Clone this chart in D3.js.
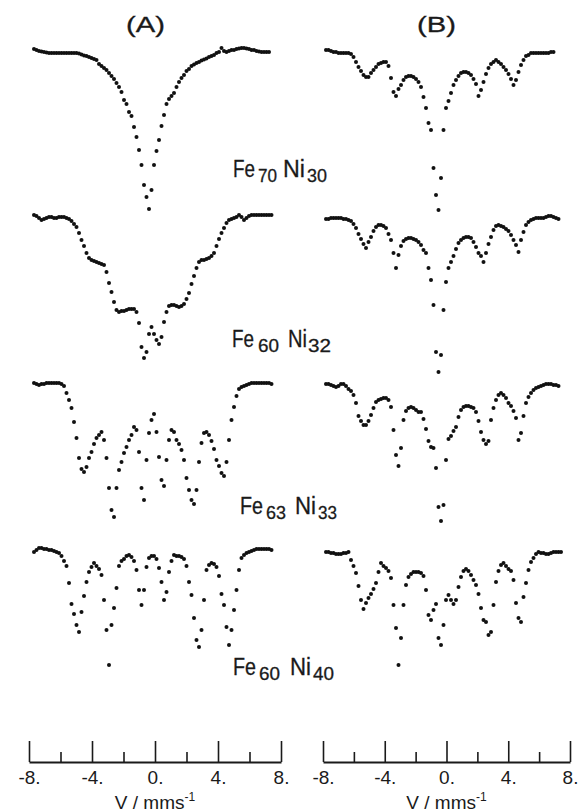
<!DOCTYPE html>
<html>
<head>
<meta charset="utf-8">
<script src="https://cdn.jsdelivr.net/npm/d3@7"></script>
<style>
  body { margin: 0; background: #fff; }
  svg { display: block; }
  text { font-family: "Liberation Sans", Arial, sans-serif; fill: #1a1a1a; }
</style>
</head>
<body>
<div id="chart"></div>
<script>
// Mossbauer spectra, relative absorption (%) per channel
var panelNames = ["(A)", "(B)"];
var feContent = ["70", "60", "63", "60"];
var niContent = ["30", "32", "33", "40"];
var velocityTicks = [-8, -6, -4, -2, 0, 2, 4, 6, 8];
var majorTicks = [-8, -4, 0, 4, 8];

// column (A)
var absA1 = [-0.1,0,0.1,0.15,0.2,0.25,0.3,0.3,0.3,0.3,0.3,0.3,0.3,0.3,0.3,0.3,0.3,0.3,0.35,0.45,0.55,0.6,0.7,0.8,0.9,1.0,1.4,1.6,1.8,2.0,2.3,2.6,2.9,3.3,3.7,4.2,5.0,5.4,6.2,6.6,7.7,8.7,10.0,11.5,13.5,14.7,15.9,14.0,11.5,10.1,9.0,7.6,6.5,5.4,4.9,4.6,4.3,3.7,3.2,2.8,2.5,2.1,1.9,1.6,1.45,1.3,1.2,1.05,0.95,0.85,0.7,0.6,0.5,0.3,0.2,-0.2,0.1,0.2,0.1,0,0,-0.1,-0.15,-0.2,-0.2,-0.15,-0.1,0,0,0.1,0.15,0.2,0.2,0.2,0.2];
var absA2 = [0,0.1,0.3,0.5,0.4,0.3,0.2,0.2,0.3,0.3,0.2,0.2,0.2,0.3,0.4,0.6,0.9,1.2,1.8,2.5,3.1,3.8,4.3,4.5,4.6,4.7,4.8,4.9,5.0,5.7,6.8,7.7,8.7,9.5,9.7,9.6,9.6,9.5,9.4,9.4,9.4,9.7,10.8,13.2,14.3,13.7,11.9,11.2,11.9,12.5,12.9,12.2,10.7,9.7,9.1,9.0,9.0,9.1,9.2,9.1,8.9,8.4,7.8,6.9,6.1,5.3,4.7,4.5,4.5,4.4,4.3,4.1,3.8,3.1,2.4,1.8,1.3,0.8,0.5,0.4,0.3,0.2,0,0.2,0.5,0.3,0.1,0,0,0,0,0,0,0,0,0];
var absA3 = [0,0.1,0.2,0.1,0.1,0,0,0,0,0,0,0.1,0.3,1.0,1.7,2.5,3.9,5.5,7.5,8.6,8.9,8.4,7.5,6.9,6.1,5.5,5.2,4.9,5.7,7.5,10.5,12.7,13.4,10.5,8.7,7.9,7.0,6.4,5.7,5.2,4.4,4.7,6.9,10.5,11.7,7.7,5.0,3.7,3.1,4.9,7.4,9.7,10.3,7.7,5.7,4.7,4.9,5.7,6.1,6.7,7.7,9.5,10.7,11.7,12.1,10.7,7.9,6.0,5.0,4.9,5.2,5.8,6.6,7.7,8.3,9.0,9.3,7.9,5.7,3.7,2.4,1.3,0.6,0.4,0.3,0.2,0.1,0,0,0,0,0,0,0,0,0.1];
var absA4 = [0.3,0.1,-0.1,-0.1,0,0,0.1,0.1,0.2,0.3,0.4,0.7,1.2,1.7,3.4,5.5,6.5,7.6,8.3,6.3,4.7,3.3,2.3,1.8,1.4,1.7,2.0,2.6,5.1,8.1,11.6,7.6,5.9,3.9,1.7,1.2,1.0,0.7,0.6,0.8,1.2,2.1,4.1,5.6,4.1,1.8,0.9,0.7,0.7,1.0,1.9,3.3,5.1,4.3,2.3,1.2,0.6,0.7,0.7,0.8,1.0,1.7,3.3,4.6,6.9,9.1,9.8,8.1,5.1,2.1,1.6,1.4,1.5,1.8,2.7,4.5,5.6,7.8,9.6,8.1,6.1,4.1,2.1,0.9,0.6,0.4,0.3,0.2,0.1,0,0,0,0,0,0,0.1];

// column (B)
var absB1 = [-0.2,-0.2,-0.1,0,0,0.1,0.1,0.1,0.1,0.1,0.2,0.5,1.0,1.5,1.9,2.3,2.5,2.5,2.1,1.8,1.5,1.2,1.1,1.0,1.0,1.4,2.6,4.0,4.4,3.7,3.3,2.8,2.5,2.4,2.4,2.5,2.7,3.0,3.5,4.5,5.6,7.1,7.8,11.6,14.3,15.8,12.6,7.8,5.6,4.9,4.1,3.3,2.8,2.4,2.1,2.0,2.0,2.1,2.3,2.7,3.2,4.4,3.8,3.0,2.2,1.6,1.2,1.0,0.8,1.0,1.2,1.5,1.8,2.2,2.7,3.3,2.8,2.0,1.3,0.8,0.4,0.3,0.1,0.1,0.1,0.1,0.1,0.1,0.1,0.1,0,0];
var absB2 = [0.1,0.1,0,0,0,0,0,0.1,0.1,0.2,0.3,0.6,1.0,1.6,2.1,2.6,3.0,2.4,1.9,1.3,0.9,0.7,0.7,0.8,1.0,1.6,2.2,3.5,5.0,3.7,2.8,2.3,2.1,2.0,2.0,2.1,2.2,2.4,2.7,3.2,3.5,5.0,6.2,8.7,13.4,15.4,13.7,9.2,6.4,5.0,4.4,3.8,3.1,2.5,2.2,2.0,1.9,1.9,2.0,2.4,2.9,3.5,3.8,4.4,3.5,2.6,1.9,1.2,0.8,0.7,0.8,0.9,1.1,1.3,1.7,2.2,2.7,3.4,2.2,1.4,0.7,0.4,0.2,0.1,0,0,0,0,-0.1,-0.2,-0.2,-0.1,0,0.1];
var absB3 = [-0.1,-0.1,0,0.1,0.2,0.1,-0.1,-0.1,0.1,0.4,0.6,1.0,1.8,3.1,3.6,4.0,4.0,3.6,3.0,2.3,1.7,1.5,1.4,1.3,1.3,1.5,2.2,4.5,7.0,8.1,6.3,3.5,2.6,2.3,2.2,2.3,2.5,2.7,2.7,3.4,4.4,5.6,6.2,6.3,8.3,12.2,13.6,12.0,7.5,5.4,5.1,4.6,4.2,3.2,2.5,2.2,2.1,2.1,2.2,2.3,2.7,3.6,4.7,5.5,5.9,5.6,3.5,2.3,1.5,1.0,0.8,1.0,1.3,1.8,2.1,2.6,3.3,5.5,4.8,3.1,1.8,1.2,0.8,0.5,0.3,0.2,0.1,0,-0.1,-0.1,-0.1,0,0,0.1];
var absB4 = [0,0,0.1,0.1,0.2,0.2,0.2,0.1,0.1,0,0.8,1.4,2.1,3.4,4.8,5.7,5.1,4.6,4.2,3.7,3.1,2.0,1.1,1.4,1.6,1.9,2.6,5.3,7.6,11.3,8.6,5.3,3.3,2.5,2.2,2.0,2.0,2.0,2.1,2.4,3.8,6.3,6.8,5.8,5.2,8.6,9.3,7.3,4.8,4.3,4.8,5.2,4.8,3.5,2.5,1.9,1.7,1.9,2.3,2.8,3.3,4.2,5.6,6.8,7.0,8.3,8.0,5.3,3.0,1.9,1.3,1.1,1.4,1.7,1.9,2.8,5.1,6.6,7.0,4.5,3.1,1.8,1.0,0.6,0.2,0,0.1,0.1,0.2,0.2,0.1,0,0,0,0];

var spectraA = [absA1, absA2, absA3, absA4];
var spectraB = [absB1, absB2, absB3, absB4];

var svgWidth = 583;
var svgHeight = 812;

var svg = d3.select("#chart")
    .append("svg")
    .attr("width", svgWidth)
    .attr("height", svgHeight);

svg.append("rect").attr("width", svgWidth).attr("height", svgHeight).attr("fill", "#fff");

// channel -> x for each column
var chanA = d3.scaleLinear().domain([0, 95]).range([34, 271.5]);
var chanB = d3.scaleLinear().domain([0, 95]).range([326, 563.5]);

// baseline of each row
var baseA = [50, 215, 383, 549];
var baseB = [52, 218, 385, 552];

function drawSpectrum(values, xs, base) {
    var ys = d3.scaleLinear().domain([0, 10]).range([base, base + 100]);
    svg.append("g")
        .selectAll("circle")
        .data(values)
        .enter()
        .append("circle")
        .attr("cx", (d, i) => xs(i))
        .attr("cy", d => ys(d))
        .attr("r", 2)
        .attr("fill", "#111");
}

spectraA.forEach((s, k) => drawSpectrum(s, chanA, baseA[k]));
spectraB.forEach((s, k) => drawSpectrum(s, chanB, baseB[k]));

// text squeezed horizontally to a given width
function piece(x, y, size, width, str) {
    var t = svg.append("text")
        .attr("font-size", size)
        .attr("stroke", "#1a1a1a")
        .attr("stroke-width", 0.3)
        .text(str);
    var len = t.node().getComputedTextLength();
    var sx = len > 0 ? width / len : 1;
    t.attr("transform", `translate(${x}, ${y}) scale(${sx}, 1)`);
    return t;
}

// panel titles
var titleX = [126, 417];
panelNames.forEach(function(name, k) {
    piece(titleX[k], 32, 22, 39, name);
});

// alloy labels: Fe, sub, Ni, sub  (left edge, width)
var labelX = [[233, 258, 283, 307], [232, 258, 288, 308], [240, 266, 295, 318], [233, 259, 290, 313]];
var labelW = [[22, 19, 22, 20], [22, 21, 19, 23], [23, 20, 21, 19], [23, 21, 21, 21]];
var labelY = [177, 347, 514, 675];
feContent.forEach(function(fe, k) {
    var y = labelY[k];
    piece(labelX[k][0], y, 24, labelW[k][0], "Fe");
    piece(labelX[k][1], y + 5, 18, labelW[k][1], fe);
    piece(labelX[k][2], y, 24, labelW[k][2], "Ni");
    piece(labelX[k][3], y + 5, 18, labelW[k][3], niContent[k]);
});

// velocity axes
var axisY = 762;
var axisScales = [
    d3.scaleLinear().domain([-8, 8]).range([29, 281]),
    d3.scaleLinear().domain([-8, 8]).range([323, 570])
];

axisScales.forEach(function(sc) {
    var axis = d3.axisBottom(sc)
        .tickValues(velocityTicks)
        .tickSizeInner(-21)
        .tickSizeOuter(0)
        .tickPadding(9)
        .tickFormat(d => majorTicks.indexOf(d) >= 0 ? d + "." : "");

    var g = svg.append("g")
        .attr("transform", `translate(0, ${axisY})`)
        .call(axis);

    g.attr("font-size", 19)
        .attr("font-family", null);
    g.select(".domain").attr("stroke", "#1a1a1a").attr("stroke-width", 2);
    g.selectAll(".tick line")
        .attr("stroke", "#1a1a1a")
        .attr("stroke-width", 1.6)
        .attr("y2", d => majorTicks.indexOf(d) >= 0 ? -21 : -10);
    g.selectAll(".tick text").attr("fill", "#1a1a1a");

    var lab = svg.append("text")
        .attr("x", (sc.range()[0] + sc.range()[1]) / 2)
        .attr("y", 809)
        .attr("text-anchor", "middle")
        .attr("font-size", 19)
        .text("V / mms");
    lab.append("tspan").attr("dy", -8).attr("font-size", 12).text("-1");
});
</script>
</body>
</html>
